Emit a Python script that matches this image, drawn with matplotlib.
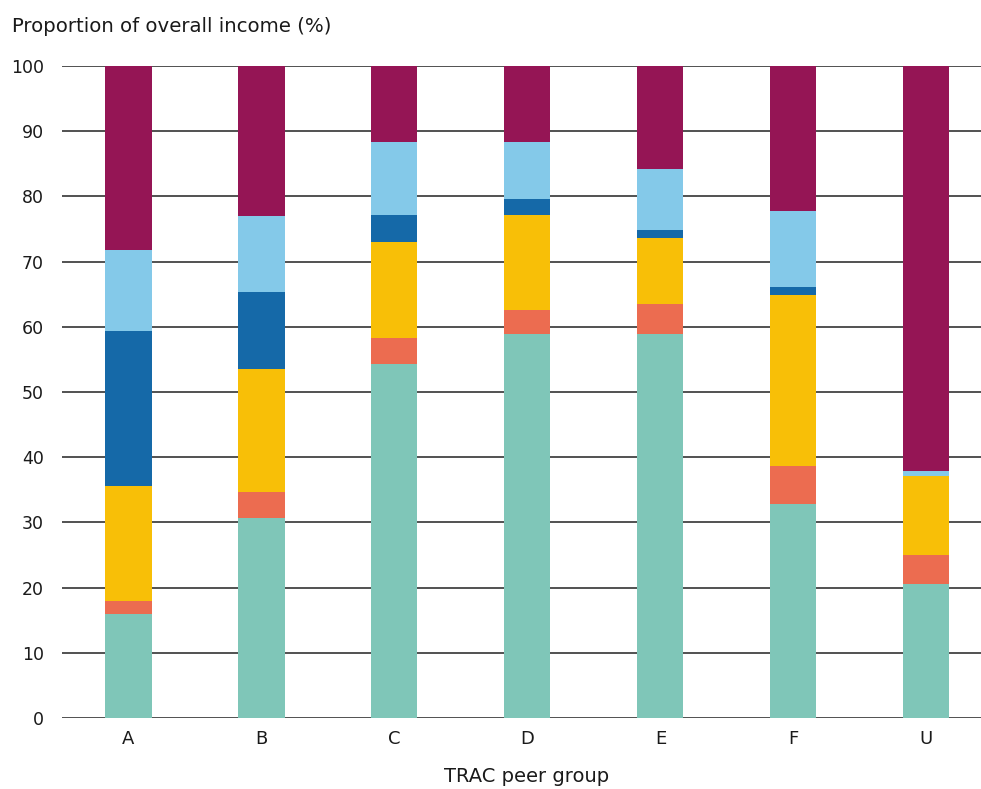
import numpy as np
import matplotlib.pyplot as plt

plt.rcParams['font.family'] = ['DejaVu Sans']

groups = ['A', 'B', 'C', 'D', 'E', 'F', 'U']

# income shares (%) per peer group, bottom to top
teal = [16.0, 30.7, 54.3, 58.9, 58.9, 32.8, 20.6]
red = [1.9, 4.0, 4.0, 3.7, 4.6, 5.9, 4.4]
yellow = [17.7, 18.8, 14.7, 14.5, 10.1, 26.2, 12.1]
dark_blue = [23.8, 11.8, 4.1, 2.5, 1.2, 1.2, 0.0]
light_blue = [12.4, 11.7, 11.2, 8.7, 9.4, 11.7, 0.8]
maroon = [28.2, 23.0, 11.7, 11.7, 15.8, 22.2, 62.1]

series = [teal, red, yellow, dark_blue, light_blue, maroon]
colours = ['#7FC6B8', '#EC6C50', '#F8BF07', '#1569A8', '#84C9E9', '#951555']

fig = plt.figure(figsize=(9.81, 7.89), dpi=100)
ax = fig.add_axes([0.0632, 0.09, 0.9368, 0.8263])

x = np.arange(len(groups))
bottom = np.zeros(len(groups))
for vals, c in zip(series, colours):
    vals = np.array(vals)
    ax.bar(x, vals, width=0.346, bottom=bottom, color=c, zorder=3)
    bottom += vals

ax.set_ylim(0, 100)
ax.set_xlim(-0.5, 6.41)
ax.set_yticks(np.arange(0, 101, 10))
ax.set_xticks(x)
ax.set_xticklabels(groups)
ax.yaxis.grid(True, color='#222222', linewidth=1.1, zorder=0)
ax.tick_params(axis='both', length=0, colors='#1a1a1a')
ax.tick_params(axis='y', labelsize=12.5, pad=13)
ax.tick_params(axis='x', labelsize=13, pad=9)
for s in ax.spines.values():
    s.set_visible(False)

fig.text(0.537, 1 - 777 / 789, 'TRAC peer group', fontsize=14,
         color='#1a1a1a', va='center', ha='center')
fig.text(0.012, 1 - 27 / 789, 'Proportion of overall income (%)', fontsize=14.2,
         color='#1a1a1a', va='center', ha='left')

fig.savefig('out.png', dpi=100)
